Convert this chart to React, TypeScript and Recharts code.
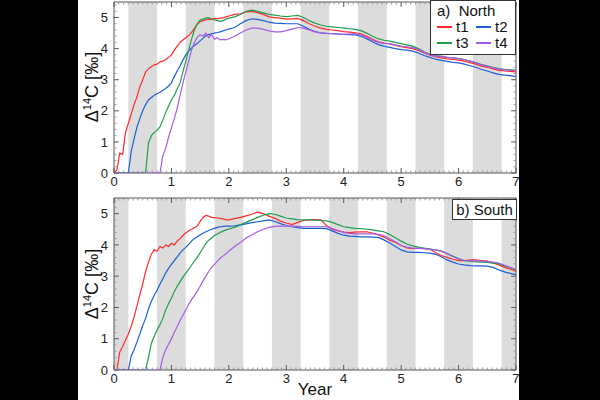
import React from "react";
import { LineChart, Line, XAxis, YAxis, ReferenceArea, ReferenceLine } from "recharts";

// sampling grid (years): 0.05 steps up to 2, then 0.1 steps
const years = [
  0, 0.05, 0.1, 0.15, 0.2, 0.25, 0.3, 0.35, 0.4, 0.45,
  0.5, 0.55, 0.6, 0.65, 0.7, 0.75, 0.8, 0.85, 0.9, 0.95,
  1.0, 1.05, 1.1, 1.15, 1.2, 1.25, 1.3, 1.35, 1.4, 1.45,
  1.5, 1.55, 1.6, 1.65, 1.7, 1.75, 1.8, 1.85, 1.9, 1.95,
  2.0,
  2.1, 2.2, 2.3, 2.4, 2.5, 2.6, 2.7, 2.8, 2.9, 3.0,
  3.1, 3.2, 3.3, 3.4, 3.5, 3.6, 3.7, 3.8, 3.9, 4.0,
  4.1, 4.2, 4.3, 4.4, 4.5, 4.6, 4.7, 4.8, 4.9, 5.0,
  5.1, 5.2, 5.3, 5.4, 5.5, 5.6, 5.7, 5.8, 5.9, 6.0,
  6.1, 6.2, 6.3, 6.4, 6.5, 6.6, 6.7, 6.8, 6.9, 7.0,
];

const northT1 = [
  0, 0.1, 0.64, 0.6, 1.3, 1.6, 1.9, 2.2, 2.45, 2.77,
  3.0, 3.25, 3.35, 3.42, 3.48, 3.5, 3.57, 3.6, 3.65, 3.72,
  3.8, 3.95, 4.08, 4.2, 4.28, 4.35, 4.42, 4.52, 4.65, 4.78,
  4.87, 4.9, 4.93, 4.95, 4.94, 4.97, 4.96, 4.98, 4.99, 5.02,
  5.05,
  5.1, 5.12, 5.18, 5.2, 5.16, 5.1, 5.02, 5.0, 4.98, 4.95,
  4.96, 4.97, 4.9, 4.8, 4.72, 4.66, 4.62, 4.6, 4.58, 4.55,
  4.53, 4.51, 4.48, 4.4, 4.3, 4.22, 4.18, 4.15, 4.1, 4.06,
  4.03, 4.0, 3.94, 3.86, 3.79, 3.74, 3.7, 3.67, 3.65, 3.63,
  3.6, 3.55, 3.5, 3.44, 3.4, 3.35, 3.3, 3.28, 3.27, 3.25,
];
const northT2 = [
  0, 0, 0, 0, 0, 0, 0.7, 1.1, 1.48, 1.75,
  2.0, 2.2, 2.35, 2.43, 2.5, 2.55, 2.6, 2.66, 2.72, 2.8,
  2.9, 3.1, 3.28, 3.45, 3.63, 3.8, 3.92, 4.02, 4.1, 4.17,
  4.25, 4.33, 4.42, 4.45, 4.48, 4.5, 4.52, 4.54, 4.57, 4.6,
  4.63,
  4.68, 4.8, 4.9, 4.96, 4.94, 4.9, 4.85, 4.82, 4.81, 4.8,
  4.8, 4.8, 4.72, 4.62, 4.55, 4.51, 4.49, 4.48, 4.47, 4.46,
  4.45, 4.44, 4.4, 4.32, 4.22, 4.13, 4.08, 4.04, 4.0, 3.97,
  3.95, 3.92, 3.86, 3.78, 3.72, 3.66, 3.62, 3.59, 3.56, 3.54,
  3.5, 3.45, 3.4, 3.33, 3.28, 3.22, 3.17, 3.15, 3.13, 3.1,
];
const northT3 = [
  0, 0, 0, 0, 0, 0, 0, 0, 0, 0,
  0, 0, 0.96, 1.2, 1.3, 1.38, 1.48, 1.7, 1.95, 2.15,
  2.35, 2.5, 2.7, 2.89, 3.25, 3.6, 3.95, 4.3, 4.6, 4.8,
  4.92, 4.95, 4.98, 5.0, 4.95, 4.92, 4.9, 4.88, 4.9, 4.95,
  4.98,
  5.02, 5.1, 5.2, 5.24, 5.2, 5.15, 5.1, 5.08, 5.05, 5.03,
  5.05, 5.07, 5.0, 4.9, 4.82, 4.76, 4.72, 4.7, 4.68, 4.66,
  4.64, 4.62, 4.58, 4.5, 4.4, 4.32, 4.27, 4.24, 4.2, 4.16,
  4.12, 4.08, 4.0, 3.9, 3.82, 3.78, 3.75, 3.72, 3.7, 3.68,
  3.65, 3.6, 3.55, 3.49, 3.45, 3.4, 3.36, 3.33, 3.32, 3.31,
];
const northT4 = [
  0, 0, 0, 0, 0, 0, 0, 0, 0, 0,
  0, 0, 0, 0, 0, 0, 0, 0.55, 0.8, 1.15,
  1.45, 1.75, 2.08, 2.5, 2.89, 3.25, 3.6, 3.95, 4.2, 4.37,
  4.45, 4.4, 4.5, 4.35, 4.45, 4.3, 4.35, 4.28, 4.3, 4.28,
  4.32,
  4.4, 4.5, 4.6, 4.66, 4.66, 4.62, 4.57, 4.54, 4.54, 4.58,
  4.63, 4.68, 4.66, 4.6, 4.54, 4.5, 4.49, 4.48, 4.47, 4.46,
  4.47, 4.48, 4.44, 4.36, 4.27, 4.2, 4.17, 4.16, 4.12, 4.08,
  4.06, 4.03, 3.97, 3.88, 3.8, 3.76, 3.74, 3.72, 3.7, 3.68,
  3.65, 3.6, 3.54, 3.48, 3.43, 3.38, 3.34, 3.32, 3.31, 3.3,
];

const southT1 = [
  0, 0, 0.58, 0.75, 0.95, 1.15, 1.4, 1.7, 2.05, 2.42,
  2.75, 3.15, 3.45, 3.7, 3.85, 3.8, 3.95, 3.9, 4.0, 3.95,
  4.05, 4.0, 4.12, 4.2, 4.3, 4.38, 4.45, 4.5, 4.55, 4.6,
  4.75, 4.88, 4.94, 4.92, 4.88, 4.87, 4.86, 4.85, 4.83, 4.8,
  4.8,
  4.84, 4.88, 4.93, 4.98, 5.05, 5.0, 4.92, 4.85, 4.76, 4.7,
  4.65, 4.72, 4.78, 4.81, 4.81, 4.8, 4.62, 4.5, 4.45, 4.41,
  4.39, 4.41, 4.42, 4.42, 4.38, 4.32, 4.25, 4.15, 4.08, 3.98,
  3.9, 3.88, 3.9, 3.88, 3.87, 3.75, 3.66, 3.6, 3.54, 3.5,
  3.5, 3.52, 3.52, 3.5, 3.48, 3.42, 3.36, 3.28, 3.22, 3.15,
];
const southT2 = [
  0, 0, 0, 0, 0, 0, 0.45, 0.65, 0.9, 1.15,
  1.42, 1.65, 1.95, 2.2, 2.38, 2.55, 2.74, 2.92, 3.1, 3.25,
  3.38, 3.5, 3.62, 3.74, 3.84, 3.92, 4.02, 4.12, 4.2, 4.26,
  4.32, 4.37, 4.42, 4.46, 4.5, 4.53, 4.56, 4.58, 4.59, 4.6,
  4.6,
  4.61, 4.64, 4.67, 4.71, 4.74, 4.77, 4.8, 4.75, 4.68, 4.62,
  4.58, 4.55, 4.53, 4.53, 4.53, 4.53, 4.52, 4.45, 4.37, 4.31,
  4.28, 4.27, 4.26, 4.26, 4.25, 4.24, 4.16, 4.06, 3.95, 3.84,
  3.78, 3.76, 3.76, 3.75, 3.74, 3.7, 3.62, 3.52, 3.45, 3.39,
  3.36, 3.34, 3.33, 3.33, 3.32, 3.28, 3.2, 3.14, 3.09, 3.05,
];
const southT3 = [
  0, 0, 0, 0, 0, 0, 0, 0, 0, 0,
  0, 0, 0.39, 0.85, 1.08, 1.28, 1.45, 1.65, 1.92, 2.12,
  2.3, 2.5, 2.68, 2.82, 2.97, 3.1, 3.22, 3.35, 3.48, 3.6,
  3.75, 3.9, 4.05, 4.15, 4.22, 4.3, 4.35, 4.4, 4.44, 4.48,
  4.51,
  4.56, 4.64, 4.72, 4.8, 4.88, 4.95, 5.0, 4.98, 4.92, 4.86,
  4.83, 4.81, 4.8, 4.8, 4.79, 4.78, 4.77, 4.72, 4.65, 4.58,
  4.55, 4.53, 4.52, 4.5, 4.48, 4.45, 4.42, 4.33, 4.23, 4.12,
  4.03, 3.97, 3.93, 3.9, 3.87, 3.84, 3.8, 3.72, 3.64, 3.56,
  3.5, 3.47, 3.46, 3.45, 3.44, 3.42, 3.4, 3.33, 3.27, 3.2,
];
const southT4 = [
  0, 0, 0, 0, 0, 0, 0, 0, 0, 0,
  0, 0, 0, 0, 0, 0, 0, 0.4, 0.65, 0.82,
  1.0, 1.2, 1.38, 1.58, 1.75, 1.92, 2.1, 2.25, 2.38, 2.52,
  2.68, 2.85, 3.0, 3.15, 3.28, 3.38, 3.48, 3.58, 3.65, 3.72,
  3.8,
  3.95, 4.08, 4.22, 4.32, 4.42, 4.5, 4.56, 4.59, 4.6, 4.6,
  4.6, 4.59, 4.58, 4.58, 4.58, 4.58, 4.58, 4.52, 4.46, 4.4,
  4.37, 4.35, 4.35, 4.35, 4.35, 4.34, 4.3, 4.2, 4.1, 3.98,
  3.93, 3.9, 3.89, 3.88, 3.86, 3.84, 3.8, 3.72, 3.63, 3.55,
  3.51, 3.5, 3.49, 3.48, 3.47, 3.45, 3.42, 3.35, 3.28, 3.22,
];

// shaded seasons
const northBands = [
  [0.25, 0.75], [1.25, 1.75], [2.25, 2.75], [3.25, 3.75],
  [4.25, 4.75], [5.25, 5.75], [6.25, 6.75],
];
const southBands = [
  [0, 0.25], [0.75, 1.25], [1.75, 2.25], [2.75, 3.25],
  [3.75, 4.25], [4.75, 5.25], [5.75, 6.25], [6.75, 7],
];

const xTicks = [0, 1, 2, 3, 4, 5, 6, 7];
const yTicks = [0, 1, 2, 3, 4, 5];
const seriesNames = ["t1", "t2", "t3", "t4"];
const seriesColors = ["#ff2b2b", "#1a5fd8", "#1f9e4e", "#a65be6"];

const FONT = "'Liberation Sans', Arial, sans-serif";
const X_MAX = 7;
const Y_MAX = 5.5;
const monthTicks = Array.from({ length: 85 }, (_, i) => i / 12);
const yMinorTicks = Array.from({ length: 28 }, (_, i) => Math.round(i * 2) / 10);

// tick mark lengths in data units (~5px major, ~2.5px minor)
const X_TICK_LEN = 0.085;
const Y_TICK_LEN = 0.16;

function buildRows(series: number[][]) {
  return years.map((year, i) => {
    const row: Record<string, number> = { year };
    seriesNames.forEach((name, k) => {
      row[name] = series[k][i];
    });
    return row;
  });
}

const northRows = buildRows([northT1, northT2, northT3, northT4]);
const southRows = buildRows([southT1, southT2, southT3, southT4]);

const isWhole = (v: number) => Math.abs(v - Math.round(v)) < 1e-6;

// inward tick marks on all four sides
function innerTicks() {
  const out: React.ReactNode[] = [];
  monthTicks.forEach((v, i) => {
    const len = isWhole(v) ? Y_TICK_LEN : Y_TICK_LEN / 2;
    const stroke = isWhole(v) ? "#555" : "#999";
    out.push(
      <ReferenceLine key={`b${i}`} segment={[{ x: v, y: 0 }, { x: v, y: len }]} stroke={stroke} ifOverflow="visible" />,
      <ReferenceLine key={`t${i}`} segment={[{ x: v, y: Y_MAX }, { x: v, y: Y_MAX - len }]} stroke={stroke} ifOverflow="visible" />
    );
  });
  yMinorTicks.forEach((v, i) => {
    const len = isWhole(v) ? X_TICK_LEN : X_TICK_LEN / 2;
    const stroke = isWhole(v) ? "#555" : "#999";
    out.push(
      <ReferenceLine key={`l${i}`} segment={[{ x: 0, y: v }, { x: len, y: v }]} stroke={stroke} ifOverflow="visible" />,
      <ReferenceLine key={`r${i}`} segment={[{ x: X_MAX, y: v }, { x: X_MAX - len, y: v }]} stroke={stroke} ifOverflow="visible" />
    );
  });
  return out;
}

function Panel({
  rows,
  bands,
  height,
  margin,
}: {
  rows: Record<string, number>[];
  bands: number[][];
  height: number;
  margin: { top: number; right: number; bottom: number; left: number };
}) {
  const tickStyle = { fontSize: 13, fill: "#222", fontFamily: FONT };
  return (
    <LineChart width={441} height={height} data={rows} margin={margin}>
      <XAxis
        dataKey="year"
        type="number"
        domain={[0, X_MAX]}
        ticks={xTicks}
        tick={tickStyle}
        tickLine={false}
        axisLine={false}
        tickSize={2}
        height={20}
        allowDataOverflow
      />
      <YAxis
        type="number"
        domain={[0, Y_MAX]}
        ticks={yTicks}
        tick={tickStyle}
        tickLine={false}
        axisLine={false}
        tickSize={3}
        tickMargin={3}
        width={36}
        allowDataOverflow
      />
      {bands.map(([a, b]) => (
        <ReferenceArea key={a} x1={a} x2={b} y1={0} y2={Y_MAX} fill="#dcdcdc" fillOpacity={1} stroke="none" ifOverflow="hidden" />
      ))}
      {innerTicks()}
      <ReferenceArea x1={0} x2={X_MAX} y1={0} y2={Y_MAX} fill="none" stroke="#555" strokeWidth={1} />
      {seriesNames.map((name, k) => (
        <Line
          key={name}
          dataKey={name}
          stroke={seriesColors[k]}
          strokeWidth={1.2}
          dot={false}
          type="linear"
          isAnimationActive={false}
        />
      ))}
    </LineChart>
  );
}

function YLabel({ cx, cy }: { cx: number; cy: number }) {
  return (
    <div
      style={{
        position: "absolute",
        left: cx - 60,
        top: cy - 12,
        width: 120,
        height: 24,
        lineHeight: "24px",
        textAlign: "center",
        transform: "rotate(-90deg)",
        fontFamily: FONT,
        fontSize: 18,
        color: "#111",
        whiteSpace: "nowrap",
      }}
    >
      Δ<sup style={{ fontSize: 11, verticalAlign: "7px", lineHeight: 0 }}>14</sup>C [‰]
    </div>
  );
}

function LegendSwatch({ color, label }: { color: string; label: string }) {
  return (
    <div style={{ display: "flex", alignItems: "center", width: 40 }}>
      <span style={{ display: "inline-block", width: 15, height: 2, background: color, marginRight: 4 }} />
      <span>{label}</span>
    </div>
  );
}

export default function App() {
  return (
    <div
      style={{
        position: "fixed",
        left: 0,
        top: 0,
        width: 600,
        height: 400,
        background: "#000",
        overflow: "hidden",
      }}
    >
      <div style={{ position: "absolute", left: 78, top: 0, width: 441, height: 400, background: "#fff" }} />
      <div style={{ position: "absolute", left: 78, top: 0 }}>
        <Panel rows={northRows} bands={northBands} height={195} margin={{ top: 2, right: 3, bottom: 2, left: 0 }} />
      </div>
      <div style={{ position: "absolute", left: 78, top: 195 }}>
        <Panel rows={southRows} bands={southBands} height={205} margin={{ top: 3, right: 3, bottom: 10, left: 0 }} />
      </div>
      <YLabel cx={92} cy={87} />
      <YLabel cx={92} cy={284} />
      <div
        style={{
          position: "absolute",
          left: 285,
          top: 380,
          width: 60,
          textAlign: "center",
          fontFamily: FONT,
          fontSize: 17,
          color: "#111",
        }}
      >
        Year
      </div>
      {/* legend, panel a */}
      <div
        style={{
          position: "absolute",
          left: 430,
          top: 0,
          width: 86,
          height: 55,
          border: "1px solid #333",
          background: "#fff",
          fontFamily: FONT,
          fontSize: 15,
          color: "#111",
          boxSizing: "border-box",
          padding: "2px 0 0 6px",
          lineHeight: "16px",
        }}
      >
        <div>a)&nbsp; North</div>
        <div style={{ display: "flex" }}>
          <LegendSwatch color={seriesColors[0]} label={seriesNames[0]} />
          <LegendSwatch color={seriesColors[1]} label={seriesNames[1]} />
        </div>
        <div style={{ display: "flex" }}>
          <LegendSwatch color={seriesColors[2]} label={seriesNames[2]} />
          <LegendSwatch color={seriesColors[3]} label={seriesNames[3]} />
        </div>
      </div>
      {/* legend, panel b */}
      <div
        style={{
          position: "absolute",
          left: 452,
          top: 199,
          width: 65,
          height: 21,
          border: "1px solid #333",
          background: "#fff",
          fontFamily: FONT,
          fontSize: 15,
          color: "#111",
          boxSizing: "border-box",
          textAlign: "center",
          lineHeight: "19px",
        }}
      >
        b) South
      </div>
    </div>
  );
}
